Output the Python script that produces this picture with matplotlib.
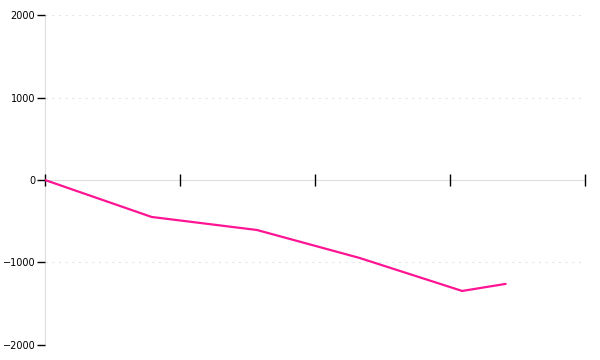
import matplotlib
matplotlib.use("Agg")
import matplotlib.pyplot as plt

# values
xs = [0, 79, 157, 233, 309, 341]
ys = [0, -448, -606, -945, -1345, -1260]
xticks = [0, 100, 200, 300, 400]
yticks = [-2000, -1000, 0, 1000, 2000]
ylabels = ["\u22122000", "\u22121000", "0", "1000", "2000"]

fig = plt.figure(figsize=(6, 3.6), dpi=100)
ax = fig.add_axes([0.075, 0.0417, 0.9, 0.9166])

for y in yticks:
    if y != 0:
        ax.axhline(y, color="#e6e6e6", lw=0.8, ls=(0, (2, 4)), zorder=1)

ax.plot(xs, ys, color="#ff1493", lw=1.6, zorder=3)

ax.set_xlim(0, 400)
ax.set_ylim(-2000, 2000)

for s in ["top", "right"]:
    ax.spines[s].set_visible(False)
ax.spines["left"].set_color("#dddddd")
ax.spines["left"].set_zorder(0.5)
ax.spines["bottom"].set_position(("data", 0))
ax.spines["bottom"].set_color("#dddddd")
ax.spines["bottom"].set_zorder(0.5)

ax.set_xticks(xticks)
ax.set_xticklabels([])
ax.tick_params(axis="x", direction="inout", length=9, width=1, color="black")
ax.set_yticks(yticks)
ax.set_yticklabels(ylabels)
ax.tick_params(axis="y", length=6, width=1, color="black", labelsize=7, pad=1)
for t in ax.xaxis.get_major_ticks():
    t.tick1line.set_clip_on(False)

fig.savefig("out.png")
